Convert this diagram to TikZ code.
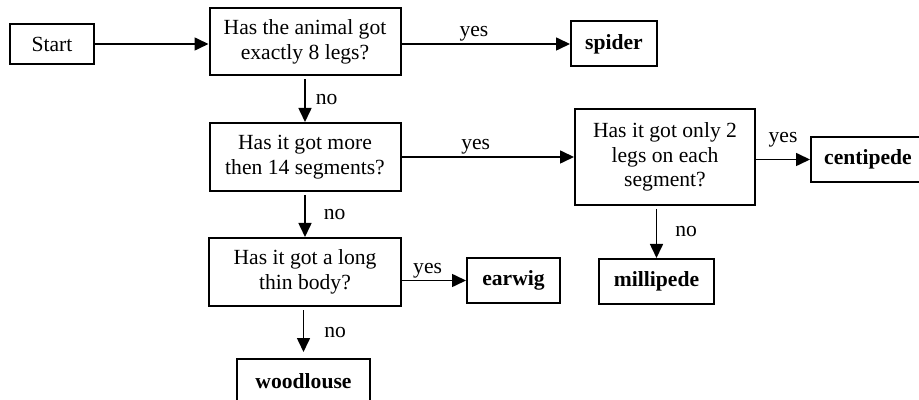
\documentclass[tikz,border=0pt]{standalone}
\usepackage{fontspec}
\setmainfont{Liberation Serif}
\usetikzlibrary{arrows.meta}

\begin{document}
\begin{tikzpicture}[x=0.5pt, y=-0.5pt, line width=0.8pt,
  >={Triangle[length=7pt,width=6.5pt]},
  box/.style={draw, line width=1pt, inner sep=0pt, align=center,
    font=\fontsize{10.8}{12.4}\selectfont},
  leaf/.style={box, font=\fontsize{10.8}{12.4}\selectfont\bfseries},
  lbl/.style={font=\fontsize{10.8}{12.4}\selectfont, inner sep=1pt}]
  \useasboundingbox (0,0) rectangle (919,400);
  % questions
  \node[box, minimum width=42pt, minimum height=20pt] (start) at (52,44) {Start};
  \node[box, minimum width=95.5pt, minimum height=33.5pt] (legs) at (305,42) {Has the animal got\\exactly 8 legs?};
  \node[box, minimum width=95.5pt, minimum height=34pt] (segs) at (305,157) {Has it got more\\then 14 segments?};
  \node[box, minimum width=90pt, minimum height=48pt] (pairs) at (665,157) {Has it got only 2\\legs on each\\segment?};
  \node[box, minimum width=96pt, minimum height=34pt] (body) at (305,272) {Has it got a long\\thin body?};
  % answers
  \node[leaf, minimum width=43pt, minimum height=22.5pt] (spider) at (614,44) {spider};
  \node[leaf, minimum width=57pt, minimum height=22.5pt] (centipede) at (868,159.5) {centipede};
  \node[leaf, minimum width=57.5pt, minimum height=22.5pt] (millipede) at (656.5,281.5) {millipede};
  \node[leaf, minimum width=46.5pt, minimum height=22.5pt] (earwig) at (513.5,280.5) {earwig};
  \node[leaf, minimum width=66.5pt, minimum height=22pt] (woodlouse) at (303.5,381) {woodlouse};

  \path[->]
  (start) edge (legs.west |- start)
  (legs.east |- spider) edge node [lbl, above, pos=0.43] {yes} (spider)
  (segs) edge node [lbl, above, pos=0.43] {yes} (pairs)
  (pairs.east |- centipede) edge node [lbl, above=5pt] {yes} (centipede)
  (body.east |- earwig) edge node [lbl, above, pos=0.4] {yes} (earwig)
  ;
  \path[->, shorten <=1.5pt]
  (legs) edge node [lbl, right=4pt] {no} (segs)
  (segs) edge node [lbl, right=8pt] {no} (body)
  (pairs.south -| millipede) edge node [lbl, right=8pt] {no} (millipede)
  (body.south -| woodlouse) edge [shorten >=3pt] node [lbl, right=9pt] {no} (woodlouse)
  ;
\end{tikzpicture}
\end{document}
